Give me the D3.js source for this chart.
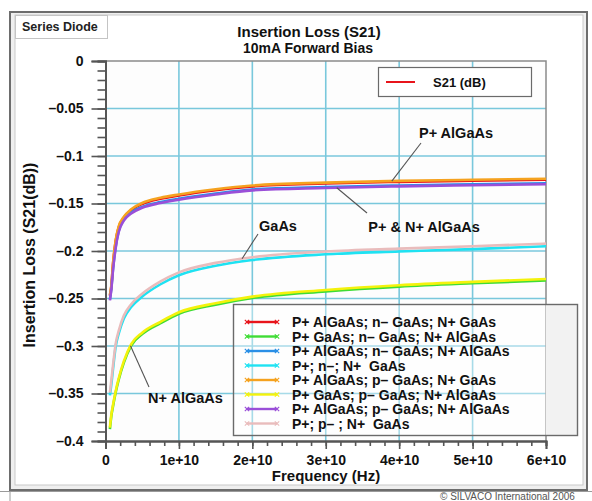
<!DOCTYPE html>
<html>
<head>
<meta charset="utf-8">
<script src="https://cdn.jsdelivr.net/npm/d3@7"></script>
<style>
  html, body { margin: 0; padding: 0; background: #ffffff; }
  svg { display: block; font-family: "Liberation Sans", Arial, sans-serif; }
</style>
</head>
<body>
<svg id="chart" width="592" height="501"></svg>
<script>
// Frequency sweep (Hz)
const frequencies = [6e8, 8e8, 1e9, 1.4e9, 1.8e9, 2.5e9, 3.5e9, 5e9, 7.5e9, 1e10, 1.5e10, 2e10, 3e10, 4e10, 5e10, 6e10];

// S21 (dB) for each diode stack
const s21_PAlGaAs_nGaAs_NGaAs     = [-0.247, -0.237, -0.216, -0.189, -0.175, -0.165, -0.157, -0.1505, -0.1450, -0.1415, -0.1360, -0.1320, -0.1290, -0.1272, -0.1260, -0.1250];
const s21_PGaAs_nGaAs_NAlGaAs     = [-0.3875, -0.3735, -0.3645, -0.3485, -0.3355, -0.3175, -0.2995, -0.2875, -0.2760, -0.2660, -0.2565, -0.2495, -0.2425, -0.2375, -0.2340, -0.2310];
const s21_PAlGaAs_nGaAs_NAlGaAs   = [-0.251, -0.239, -0.221, -0.195, -0.179, -0.167, -0.1595, -0.1535, -0.1485, -0.1450, -0.1395, -0.1352, -0.1327, -0.1310, -0.1298, -0.1287];
const s21_P_n_NGaAs               = [-0.352, -0.340, -0.326, -0.300, -0.287, -0.271, -0.259, -0.248, -0.235, -0.2255, -0.2155, -0.2095, -0.2035, -0.2005, -0.1980, -0.1950];
const s21_PAlGaAs_pGaAs_NGaAs     = [-0.246, -0.236, -0.215, -0.188, -0.174, -0.164, -0.156, -0.1495, -0.1440, -0.1405, -0.1350, -0.1310, -0.1280, -0.1262, -0.1250, -0.1240];
const s21_PGaAs_pGaAs_NAlGaAs     = [-0.386, -0.372, -0.363, -0.347, -0.334, -0.316, -0.298, -0.286, -0.2745, -0.2645, -0.2550, -0.2480, -0.2410, -0.2360, -0.2325, -0.2295];
const s21_PAlGaAs_pGaAs_NAlGaAs   = [-0.252, -0.240, -0.222, -0.196, -0.180, -0.168, -0.1605, -0.1545, -0.1495, -0.1460, -0.1405, -0.1362, -0.1337, -0.1320, -0.1308, -0.1297];
const s21_P_p_NGaAs               = [-0.349, -0.336, -0.322, -0.297, -0.284, -0.268, -0.256, -0.245, -0.232, -0.2225, -0.2125, -0.2065, -0.2005, -0.1975, -0.1950, -0.1922];

const seriesNames = [
  "P+ AlGaAs; n\u2013 GaAs; N+ GaAs",
  "P+ GaAs; n\u2013 GaAs; N+ AlGaAs",
  "P+ AlGaAs; n\u2013 GaAs; N+ AlGaAs",
  "P+; n\u2013; N+\u00a0 GaAs",
  "P+ AlGaAs; p\u2013 GaAs; N+ GaAs",
  "P+ GaAs; p\u2013 GaAs; N+ AlGaAs",
  "P+ AlGaAs; p\u2013 GaAs; N+ AlGaAs",
  "P+; p\u2013 ; N+\u00a0 GaAs"
];
const seriesValues = [
  s21_PAlGaAs_nGaAs_NGaAs, s21_PGaAs_nGaAs_NAlGaAs, s21_PAlGaAs_nGaAs_NAlGaAs, s21_P_n_NGaAs,
  s21_PAlGaAs_pGaAs_NGaAs, s21_PGaAs_pGaAs_NAlGaAs, s21_PAlGaAs_pGaAs_NAlGaAs, s21_P_p_NGaAs
];
const seriesColors = ["#e8141b", "#3fdc35", "#2a8fe6", "#1fe2f2", "#f5a21f", "#f4f20c", "#9a4fd8", "#e9bcbc"];

const xTicks = [0, 1e10, 2e10, 3e10, 4e10, 5e10, 6e10];
const xTickLabels = ["0", "1e+10", "2e+10", "3e+10", "4e+10", "5e+10", "6e+10"];
const yTicks = [0, -0.05, -0.1, -0.15, -0.2, -0.25, -0.3, -0.35, -0.4];
const yTickLabels = ["0", "\u20130.05", "\u20130.1", "\u20130.15", "\u20130.2", "\u20130.25", "\u20130.3", "\u20130.35", "\u20130.4"];

const svg = d3.select("#chart");

// ---- panel frame ----
svg.append("rect").attr("x", 10).attr("y", 12).attr("width", 577).attr("height", 478)
  .attr("fill", "#efefef").attr("stroke", "#6d6d6d").attr("stroke-width", 2);
svg.append("rect").attr("x", 15).attr("y", 15).attr("width", 568).attr("height", 470)
  .attr("fill", "#ffffff").attr("stroke", "#c9c9c9").attr("stroke-width", 1);
svg.append("line").attr("x1", 0).attr("x2", 592).attr("y1", 491.5).attr("y2", 491.5)
  .attr("stroke", "#9a9a9a").attr("stroke-width", 1.2);
svg.append("line").attr("x1", 10).attr("x2", 10).attr("y1", 492).attr("y2", 501)
  .attr("stroke", "#9a9a9a").attr("stroke-width", 1);
svg.append("text").attr("x", 440).attr("y", 500).attr("font-size", 10).attr("fill", "#555")
  .text("\u00a9 SILVACO International 2006");

// tab
svg.append("rect").attr("x", 15.5).attr("y", 15.5).attr("width", 92).attr("height", 23)
  .attr("fill", "#ffffff").attr("stroke", "#c4c4c4");
svg.append("text").attr("x", 22).attr("y", 31).attr("font-size", 12.5).attr("font-weight", "bold")
  .attr("fill", "#222").text("Series Diode");

// titles
svg.append("text").attr("x", 309).attr("y", 37).attr("text-anchor", "middle")
  .attr("font-size", 15).attr("font-weight", "bold").attr("fill", "#111").text("Insertion Loss (S21)");
svg.append("text").attr("x", 308).attr("y", 53).attr("text-anchor", "middle")
  .attr("font-size", 14).attr("font-weight", "bold").attr("fill", "#111").text("10mA Forward Bias");

// ---- scales ----
const x = d3.scaleLinear().domain([0, 6e10]).range([105.5, 546]);
const y = d3.scaleLinear().domain([-0.4, 0]).range([441, 61]);
const [px0, px1] = x.range();
const [py1, py0] = y.range();

// plot background
svg.append("rect").attr("x", px0).attr("y", py0).attr("width", px1 - px0).attr("height", py1 - py0)
  .attr("fill", "#fdfdfd");

// grid
const grid = svg.append("g").attr("stroke", "#63bfd7").attr("stroke-width", 1.6).attr("opacity", 0.85);
grid.selectAll("line.v").data(xTicks.slice(1, -1)).join("line")
  .attr("x1", d => x(d)).attr("x2", d => x(d)).attr("y1", py0).attr("y2", py1);
grid.selectAll("line.h").data(yTicks.slice(1, -1)).join("line")
  .attr("x1", px0).attr("x2", px1).attr("y1", d => y(d)).attr("y2", d => y(d));

// plot border (top, right)
svg.append("path").attr("d", `M${px0},${py0}H${px1}V${py1}`)
  .attr("fill", "none").attr("stroke", "#8a8a8a").attr("stroke-width", 1.5);

// ---- axes ----
const yAxisMajor = d3.axisLeft(y).tickValues(yTicks).tickSize(14).tickFormat((d, i) => yTickLabels[i]);
const yAxisMinor = d3.axisLeft(y).tickValues(d3.range(0, 41).map(i => -i * 0.01)).tickSize(8).tickFormat("");
const xAxisMajor = d3.axisBottom(x).tickValues(xTicks).tickSize(8).tickFormat((d, i) => xTickLabels[i]);
const xAxisMinor = d3.axisBottom(x).tickValues(d3.range(0, 31).map(i => i * 2e9)).tickSize(5).tickFormat("");

function styleAxis(g) {
  g.select(".domain").attr("stroke", "#555").attr("stroke-width", 1.8);
  g.selectAll(".tick line").attr("stroke", "#555").attr("stroke-width", 1.6);
  g.selectAll(".tick text").attr("fill", "#111").attr("font-size", 14).attr("font-weight", "bold")
    .attr("font-family", "Liberation Sans, Arial, sans-serif");
}
svg.append("g").attr("transform", `translate(${px0},0)`).call(yAxisMinor).call(styleAxis);
svg.append("g").attr("transform", `translate(${px0},0)`).call(yAxisMajor).call(styleAxis)
  .selectAll(".tick text").attr("x", -22);
svg.append("g").attr("transform", `translate(0,${py1})`).call(xAxisMinor).call(styleAxis);
svg.append("g").attr("transform", `translate(0,${py1})`).call(xAxisMajor).call(styleAxis)
  .selectAll(".tick text").attr("y", 14);

// axis titles
svg.append("text").attr("transform", "translate(35,255) rotate(-90)").attr("text-anchor", "middle")
  .attr("font-size", 16).attr("font-weight", "bold").attr("fill", "#111").text("Insertion Loss (S21(dB))");
svg.append("text").attr("x", 326).attr("y", 481).attr("text-anchor", "middle")
  .attr("font-size", 15).attr("font-weight", "bold").attr("fill", "#111").text("Frequency (Hz)");

// ---- curves ----
svg.append("clipPath").attr("id", "plotClip").append("rect")
  .attr("x", px0).attr("y", py0).attr("width", px1 - px0).attr("height", py1 - py0);

const line = d3.line().x(d => x(d[0])).y(d => y(d[1])).curve(d3.curveMonotoneX);
const curves = svg.append("g").attr("clip-path", "url(#plotClip)");
seriesValues.forEach((vals, i) => {
  curves.append("path")
    .datum(frequencies.map((f, j) => [f, vals[j]]))
    .attr("d", line)
    .attr("fill", "none")
    .attr("stroke", seriesColors[i])
    .attr("stroke-width", 2.6)
    .attr("stroke-linejoin", "round");
});

// ---- annotations ----
function valueAt(vals, f) {
  const i = d3.bisectLeft(frequencies, f);
  if (i <= 0) return vals[0];
  const t = (f - frequencies[i - 1]) / (frequencies[i] - frequencies[i - 1]);
  return vals[i - 1] + t * (vals[i] - vals[i - 1]);
}
const notes = [
  { text: "P+ AlGaAs", series: 4, f: 3.9e10, tx: 456, ty: 138, anchor: "middle", lx: 421, ly: 143 },
  { text: "P+ & N+ AlGaAs", series: 6, f: 3.15e10, tx: 424, ty: 232, anchor: "middle", lx: 367, ly: 213 },
  { text: "GaAs", series: 7, f: 1.86e10, tx: 278, ty: 231, anchor: "middle", lx: 258, ly: 234 },
  { text: "N+ AlGaAs", series: 5, f: 0.34e10, tx: 148, ty: 403, anchor: "start", lx: 149, ly: 387 }
];
notes.forEach(n => {
  svg.append("line").attr("x1", n.lx).attr("y1", n.ly)
    .attr("x2", x(n.f)).attr("y2", y(valueAt(seriesValues[n.series], n.f)))
    .attr("stroke", "#555").attr("stroke-width", 1.1);
  svg.append("text").attr("x", n.tx).attr("y", n.ty).attr("text-anchor", n.anchor)
    .attr("font-size", 14.5).attr("font-weight", "bold").attr("fill", "#111").text(n.text);
});

// ---- top legend ----
svg.append("rect").attr("x", 378.5).attr("y", 67.5).attr("width", 153).attr("height", 29)
  .attr("fill", "#ffffff").attr("stroke", "#6a6a6a").attr("stroke-width", 1.2);
svg.append("line").attr("x1", 386).attr("x2", 415).attr("y1", 82).attr("y2", 82)
  .attr("stroke", "#e8141b").attr("stroke-width", 2);
svg.append("text").attr("x", 433).attr("y", 86.5).attr("font-size", 13).attr("font-weight", "bold")
  .attr("fill", "#111").text("S21 (dB)");

// ---- series legend ----
const lg = svg.append("g");
lg.append("rect").attr("x", px1).attr("y", 304).attr("width", 578 - px1).attr("height", 132)
  .attr("fill", "#ececec");
lg.append("rect").attr("x", 233.5).attr("y", 304.5).attr("width", 344).attr("height", 131)
  .attr("fill", "#ffffff").attr("fill-opacity", 0.35).attr("stroke", "#6a6a6a").attr("stroke-width", 1.4);
seriesNames.forEach((name, i) => {
  const cy = 322 + i * 14.5;
  lg.append("line").attr("x1", 247).attr("x2", 277).attr("y1", cy).attr("y2", cy)
    .attr("stroke", seriesColors[i]).attr("stroke-width", 2.4);
  [247, 277].forEach(mx => {
    lg.append("path").attr("d", d3.symbol(d3.symbolTimes, 14)())
      .attr("transform", `translate(${mx},${cy})`)
      .attr("fill", "none").attr("stroke", seriesColors[i]).attr("stroke-width", 1.2);
  });
  lg.append("text").attr("x", 292).attr("y", cy + 5).attr("font-size", 14).attr("font-weight", "bold")
    .attr("fill", "#111").text(name);
});
</script>
</body>
</html>
